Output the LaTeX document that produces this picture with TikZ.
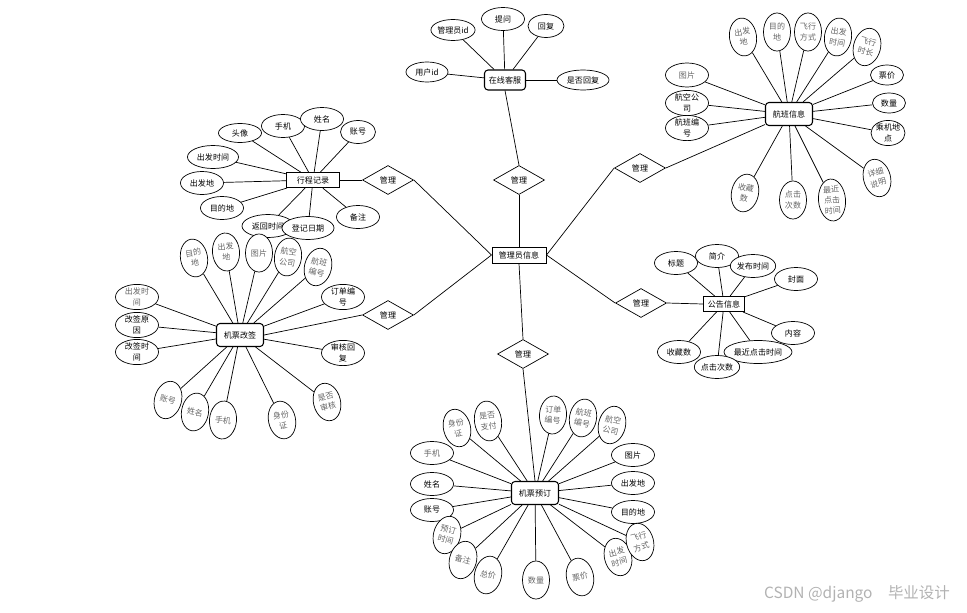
\documentclass[tikz,border=0pt]{standalone}
\usepackage{fontspec}
\setmainfont{Noto Sans CJK SC}
\usetikzlibrary{shapes.geometric}

\begin{document}
\begin{tikzpicture}[
  x=0.025cm,y=-0.025cm,
  every node/.style={font=\fontsize{5.7}{7.4}\selectfont,align=center},
  ent/.style={draw,line width=.75pt,rounded corners=2.5pt,fill=white,
    minimum width=1.175cm,minimum height=.575cm,inner sep=1pt},
  box/.style={draw,line width=.7pt,fill=white,minimum width=1.35cm,
    minimum height=.4cm,inner sep=1pt},
  rel/.style={diamond,draw,line width=.5pt,fill=white,minimum width=1.275cm,
    minimum height=.725cm,inner sep=0pt},
  attr/.style={ellipse,draw,line width=.5pt,fill=white,minimum width=1.075cm,
    minimum height=.575cm,inner sep=0pt},
  gattr/.style={attr,text=black!60},
  vattr/.style={ellipse,draw,line width=.5pt,fill=white,text=black!60,
    minimum width=.675cm,minimum height=.95cm,inner sep=0pt},
  link/.style={draw,line width=.5pt}
]
\useasboundingbox (0,0) rectangle (967,612);

\node[box] (admin) at (519,255) {管理员信息};
\node[ent,minimum width=1.025cm,minimum height=.5cm] (chat) at (505,80) {在线客服};
\node[ent] (flight) at (789,114) {航班信息};
\node[box,minimum width=1.325cm,minimum height=.375cm] (trip) at (313,180) {行程记录};
\node[ent] (change) at (240,335) {机票改签};
\node[box,minimum width=1.025cm,minimum height=.375cm] (notice) at (724,304) {公告信息};
\node[ent] (book) at (535,493) {机票预订};

\node[rel] (rtop) at (519,180) {管理};
\node[rel] (rul) at (388,180) {管理};
\node[rel] (rur) at (640,168) {管理};
\node[rel] (rll) at (388,315) {管理};
\node[rel] (rlr) at (641,303) {管理};
\node[rel] (rbot) at (523,354) {管理};

\draw[link] (chat.south) -- (rtop.north);
\draw[link] (rtop.south) -- (admin.north);
\draw[link] (trip.east) -- (rul.west);
\draw[link] (rul.east) -- (admin.west);
\draw[link] (change.east) -- (rll.west);
\draw[link] (rll.east) -- (admin.west);
\draw[link] (admin.east) -- (rur.west);
\draw[link] (rur.east) -- (flight);
\draw[link] (admin.east) -- (rlr.west);
\draw[link] (rlr.east) -- (notice.west);
\draw[link] (admin.south) -- (rbot.north);
\draw[link] (rbot.south) -- (book.north);

\node[attr,minimum width=1.025cm,minimum height=.525cm] (c1) at (453,30) {管理员id};
\node[attr] (c2) at (503,19) {提问};
\node[attr,minimum width=.9cm] (c3) at (546,26) {回复};
\node[attr,minimum width=1.05cm,minimum height=.5cm] (c4) at (427,72) {用户id};
\node[attr,minimum width=1.3cm,minimum height=.5cm] (c5) at (583,80) {是否回复};
\foreach \a in {c1,c2,c3,c4,c5}
  \draw[link] (\a) -- (chat);

\node[vattr,rotate=8] (f1) at (743,37) {出发\\地};
\node[vattr] (f2) at (777,32) {目的\\地};
\node[vattr] (f3) at (808,32) {飞行\\方式};
\node[vattr,rotate=-8] (f4) at (838,37) {出发\\时间};
\node[vattr,rotate=-15] (f5) at (867,47) {飞行\\时长};
\node[attr,minimum width=.825cm,minimum height=.5cm] (f6) at (887,75) {票价};
\node[attr,minimum width=.825cm,minimum height=.5cm] (f7) at (889,103) {数量};
\node[attr,minimum width=.825cm,minimum height=.6cm] (f8) at (888,133) {乘机地\\点};
\node[vattr,rotate=15] (f9) at (877,178) {详细\\说明};
\node[gattr,minimum height=.6cm] (f10) at (687,75) {图片};
\node[attr,minimum height=.45cm] (f11) at (687,103) {航空公\\司};
\node[attr,minimum height=.55cm] (f12) at (687,128) {航班编\\号};
\node[vattr,rotate=-12] (f13) at (745,193) {收藏\\数};
\node[vattr] (f14) at (793,200) {点击\\次数};
\node[vattr,minimum height=1.05cm,rotate=5] (f15) at (832,200) {最近\\点击\\时间};
\foreach \a in {f1,f2,f3,f4,f5,f6,f7,f8,f9,f10,f11,f12,f13,f14,f15}
  \draw[link] (\a) -- (flight);

\node[attr,minimum height=.475cm] (t1) at (240,133) {头像};
\node[attr] (t2) at (283,126) {手机};
\node[attr] (t3) at (322,119) {姓名};
\node[attr,minimum width=.875cm] (t4) at (358,132) {账号};
\node[attr,minimum width=1.275cm] (t5) at (213,157) {出发时间};
\node[attr] (t6) at (202,183) {出发地};
\node[attr] (t7) at (222,208) {目的地};
\node[attr,minimum width=1.3cm] (t8) at (268,226) {返回时间};
\node[attr,minimum width=1.3cm] (t9) at (308,228) {登记日期};
\node[attr] (t10) at (358,217) {备注};
\foreach \a in {t1,t2,t3,t4,t5,t6,t7,t8,t9,t10}
  \draw[link] (\a) -- (trip);

\node[vattr,rotate=10] (g1) at (194,258) {目的\\地};
\node[vattr,rotate=5] (g2) at (226,252) {出发\\地};
\node[vattr] (g3) at (259,253) {图片};
\node[vattr,rotate=-8] (g4) at (288,257) {航空\\公司};
\node[vattr,rotate=-14] (g5) at (318,267) {航班\\编号};
\node[gattr] (g6) at (137,297) {出发时\\间};
\node[attr] (g7) at (137,325) {改签原\\因};
\node[attr] (g8) at (137,352) {改签时\\间};
\node[attr] (g9) at (343,297) {订单编\\号};
\node[attr] (g10) at (343,353) {审核回\\复};
\node[vattr,rotate=-15] (g11) at (168,400) {账号};
\node[vattr,rotate=-10] (g12) at (195,412) {姓名};
\node[vattr,rotate=-5] (g13) at (223,420) {手机};
\node[vattr,rotate=12] (g14) at (282,420) {身份\\证};
\node[vattr,rotate=14] (g15) at (327,402) {是否\\审核};
\foreach \a in {g1,g2,g3,g4,g5,g6,g7,g8,g9,g10,g11,g12,g13,g14,g15}
  \draw[link] (\a) -- (change);

\node[attr] (n1) at (676,263) {标题};
\node[attr] (n2) at (717,256) {简介};
\node[attr] (n3) at (753,266) {发布时间};
\node[attr] (n4) at (796,279) {封面};
\node[attr] (n5) at (793,333) {内容};
\node[attr] (n6) at (679,352) {收藏数};
\node[attr,minimum width=1.45cm] (n7) at (758,352) {最近点击时间};
\node[attr] (n8) at (717,367) {点击次数};
\foreach \a in {n1,n2,n3,n4,n5,n6,n7,n8}
  \draw[link] (\a) -- (notice);

\node[vattr,rotate=14] (b1) at (457,428) {身份\\证};
\node[vattr,minimum height=1.0cm,rotate=8] (b2) at (488,421) {是否\\支付};
\node[vattr,rotate=-4] (b3) at (553,415) {订单\\编号};
\node[vattr,rotate=-10] (b4) at (583,418) {航班\\编号};
\node[vattr,rotate=-14] (b5) at (612,425) {航空\\公司};
\node[gattr] (b6) at (432,453) {手机};
\node[attr] (b7) at (432,484) {姓名};
\node[attr] (b8) at (432,510) {账号};
\node[attr] (b9) at (633,455) {图片};
\node[attr] (b10) at (633,483) {出发地};
\node[attr] (b11) at (633,512) {目的地};
\node[vattr,rotate=-15] (b12) at (447,535) {预订\\时间};
\node[vattr,rotate=-15] (b13) at (463,560) {备注};
\node[vattr,rotate=-12] (b14) at (488,575) {总价};
\node[vattr] (b15) at (536,580) {数量};
\node[vattr,rotate=12] (b16) at (580,577) {票价};
\node[vattr,rotate=15] (b17) at (618,557) {出发\\时间};
\node[vattr,rotate=15] (b18) at (640,542) {飞行\\方式};
\foreach \a in {b1,b2,b3,b4,b5,b6,b7,b8,b9,b10,b11,b12,b13,b14,b15,b16,b17,b18}
  \draw[link] (\a) -- (book);

\node[text=black!30,font=\fontsize{11}{13}\selectfont] (mark) at (857,594)
  {CSDN @django\quad 毕业设计};
\end{tikzpicture}
\end{document}
